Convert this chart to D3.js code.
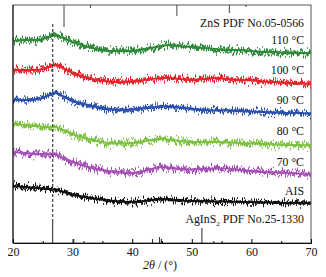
<!DOCTYPE html>
<html lang="en">
<head>
    <meta charset="UTF-8">
    <script src="https://d3js.org/d3.v7.min.js"></script>
    <style>
        body {margin: 0; background-color: #fff}
        svg {display: block}
        text {font-family: "Liberation Serif", "Times New Roman", serif; fill: #111}
        path.line {fill: none}
    </style>
</head>
<body>
<svg class="chart"></svg>
<script type="text/javascript">
    let angles = [20, 22, 24, 25, 26, 27, 28, 30, 32, 34, 36, 38, 40, 42, 44, 45, 46, 48, 50, 52, 54, 56, 58, 60, 62, 64, 66, 68, 70];

    // stacked intensities (a.u., offsets included)
    let s110 = [202, 203, 203, 204, 206, 208, 206, 201, 197, 194, 192, 192, 192, 194, 196, 197, 198, 197, 196, 195, 194, 193, 193, 192, 191, 191, 190, 190, 190];
    let s100 = [173, 173, 173, 174, 176, 178, 176, 170, 166, 163, 161.5, 161, 161.5, 163, 164.5, 165, 165, 164, 163, 164, 165, 164, 163, 163, 161.5, 161, 160, 159.5, 159];
    let s90 = [143, 143, 144, 145, 148, 150, 148, 142, 139, 136, 134, 133, 133.5, 135, 136, 136.5, 136.5, 135.5, 134, 133, 132.5, 132.5, 132, 131.5, 131, 130.5, 130, 130, 129.5];
    let s80 = [119, 118, 117, 116, 116, 116, 114, 109, 105, 102, 100, 99.5, 100, 102, 103.5, 104, 103.5, 102, 101, 101, 101, 100.5, 100, 99.5, 99, 98.5, 98, 98, 97.5];
    let s70 = [91, 90, 89, 89, 89, 89, 86, 81, 77, 74, 72, 70.5, 70, 72, 75, 76, 75.5, 74, 73.5, 74, 74.5, 74.5, 73, 72, 71, 70.5, 70, 69.5, 69];
    let sAIS = [57, 56, 55, 54.5, 54, 53.5, 52, 48.5, 46, 44, 42.5, 41.5, 41, 42, 43.5, 44, 43.5, 42.5, 42, 42, 41.5, 41.5, 41, 41, 40.5, 40.5, 40, 40, 40];

    let seriesNames = ['110 \u00b0C', '100 \u00b0C', '90 \u00b0C', '80 \u00b0C', '70 \u00b0C', 'AIS'];
    let seriesColors = ['#2f8a3c', '#e5242b', '#2b50ae', '#7ec244', '#a651b5', '#111111'];
    let seriesLabelY = [199, 169, 139, 108, 77, 48];

    // reference patterns: [2theta, stick height]
    let znsSticks = [[28.56, 22], [33.0, 3], [47.5, 11], [56.3, 8], [59.1, 2]];
    let aisSticks = [[26.66, 22], [30.2, 4], [31.9, 2], [43.4, 4], [44.6, 6], [44.9, 4], [51.7, 15], [53.7, 2]];

    let xTicks = [20, 30, 40, 50, 60, 70];
    let xMinor = [25, 35, 45, 55, 65];

    let chart_width = 326;
    let chart_height = 277;
    let m_left = 13, m_right = 311, m_top = 5, m_bottom = 243;

    var svg = d3.select('.chart')
        .attr('width', chart_width)
        .attr('height', chart_height);

    var x_range = d3.scaleLinear().domain([20, 70]).range([m_left, m_right]);
    var y_range = d3.scaleLinear().domain([0, 238]).range([m_bottom, m_top]);

    // jitter filters give the noisy diffraction look
    var defs = svg.append('defs');
    function noiseFilter(id, seed, freq, scale) {
        var f = defs.append('filter').attr('id', id)
            .attr('filterUnits', 'userSpaceOnUse')
            .attr('x', 0).attr('y', 0).attr('width', chart_width).attr('height', chart_height)
            .attr('color-interpolation-filters', 'sRGB');
        f.append('feTurbulence').attr('type', 'fractalNoise')
            .attr('baseFrequency', freq).attr('numOctaves', 2).attr('seed', seed).attr('result', 't');
        f.append('feColorMatrix').attr('in', 't').attr('type', 'matrix')
            .attr('values', '0 0 0 0 0.5  0 1.8 0 0 -0.4  0 0 0 0 0  0 0 0 0 1').attr('result', 'm');
        f.append('feDisplacementMap').attr('in', 'SourceGraphic').attr('in2', 'm')
            .attr('scale', scale).attr('xChannelSelector', 'R').attr('yChannelSelector', 'G');
    }
    noiseFilter('noiseA', 4, '0.9 0.01', 8);
    noiseFilter('noiseB', 11, '1.3 0.01', 11);

    // frame
    svg.append('rect')
        .attr('x', m_left).attr('y', m_top)
        .attr('width', m_right - m_left).attr('height', m_bottom - m_top)
        .attr('fill', 'none').attr('stroke', '#555').attr('stroke-width', 1);

    var allSeries = [s110, s100, s90, s80, s70, sAIS];
    var line = d3.line()
        .x(function (d) {return x_range(d[0]);})
        .y(function (d) {return y_range(d[1]);})
        .curve(d3.curveMonotoneX);

    function pathOf(d) {
        return line(angles.map(function (a, j) {return [a, d[j]];}));
    }

    var groups = svg.selectAll('g.series').data(allSeries).enter().append('g').attr('class', 'series');
    groups.append('path').attr('class', 'line')
        .attr('stroke', (d, i) => seriesColors[i]).attr('stroke-width', 3)
        .attr('filter', 'url(#noiseA)')
        .attr('d', pathOf);
    groups.append('path').attr('class', 'line')
        .attr('stroke', (d, i) => seriesColors[i]).attr('stroke-width', 1.4)
        .attr('filter', 'url(#noiseB)')
        .attr('d', pathOf);
    groups.append('path').attr('class', 'line')
        .attr('stroke', (d, i) => seriesColors[i]).attr('stroke-width', 2.2)
        .attr('d', pathOf);

    // dashed marker at the AgInS2 main reflection
    svg.append('line')
        .attr('x1', x_range(26.66)).attr('x2', x_range(26.66))
        .attr('y1', y_range(219)).attr('y2', y_range(22))
        .attr('stroke', '#444').attr('stroke-width', 1.2).attr('stroke-dasharray', '3,2');

    // ZnS sticks hang from the top
    svg.selectAll('line.zns').data(znsSticks).enter().append('line')
        .attr('x1', d => x_range(d[0])).attr('x2', d => x_range(d[0]))
        .attr('y1', y_range(238)).attr('y2', d => y_range(238 - d[1]))
        .attr('stroke', '#444').attr('stroke-width', 1);

    // AgInS2 sticks stand on the bottom
    svg.selectAll('line.ais').data(aisSticks).enter().append('line')
        .attr('x1', d => x_range(d[0])).attr('x2', d => x_range(d[0]))
        .attr('y1', y_range(0)).attr('y2', d => y_range(d[1]))
        .attr('stroke', '#222').attr('stroke-width', 1);

    // axes
    var xAxis = svg.append('g')
        .attr('transform', 'translate(0,' + m_bottom + ')')
        .call(d3.axisBottom(x_range).tickValues(xTicks).tickSize(-4).tickPadding(4));
    xAxis.select('.domain').attr('stroke', '#111');
    xAxis.selectAll('text').style('font-size', '12px').attr('fill', '#111');

    svg.append('g')
        .attr('transform', 'translate(0,' + m_bottom + ')')
        .call(d3.axisBottom(x_range).tickValues(xMinor).tickSize(-2).tickFormat(''))
        .select('.domain').remove();

    svg.append('line')
        .attr('x1', m_left).attr('x2', m_left).attr('y1', m_top).attr('y2', m_bottom)
        .attr('stroke', '#111');

    var title = svg.append('text')
        .attr('x', (m_left + m_right) / 2 - 2).attr('y', 269)
        .attr('text-anchor', 'middle').style('font-size', '12px');
    title.append('tspan').style('font-style', 'italic').text('2\u03b8');
    title.append('tspan').text(' / (\u00b0)');

    // series labels
    seriesNames.forEach(function (n, i) {
        svg.append('text')
            .attr('x', 304).attr('y', y_range(seriesLabelY[i]))
            .attr('text-anchor', 'end').style('font-size', '11.8px').text(n);
    });

    svg.append('text')
        .attr('x', 304).attr('y', y_range(216.5))
        .attr('text-anchor', 'end').style('font-size', '11.8px')
        .text('ZnS PDF No.05-0566');

    var ref = svg.append('text')
        .attr('x', 304).attr('y', y_range(20.5))
        .attr('text-anchor', 'end').style('font-size', '11.8px');
    ref.append('tspan').text('AgInS');
    ref.append('tspan').attr('dy', 3).style('font-size', '7px').text('2');
    ref.append('tspan').attr('dy', -3).text(' PDF No.25-1330');
</script>
</body>
</html>
